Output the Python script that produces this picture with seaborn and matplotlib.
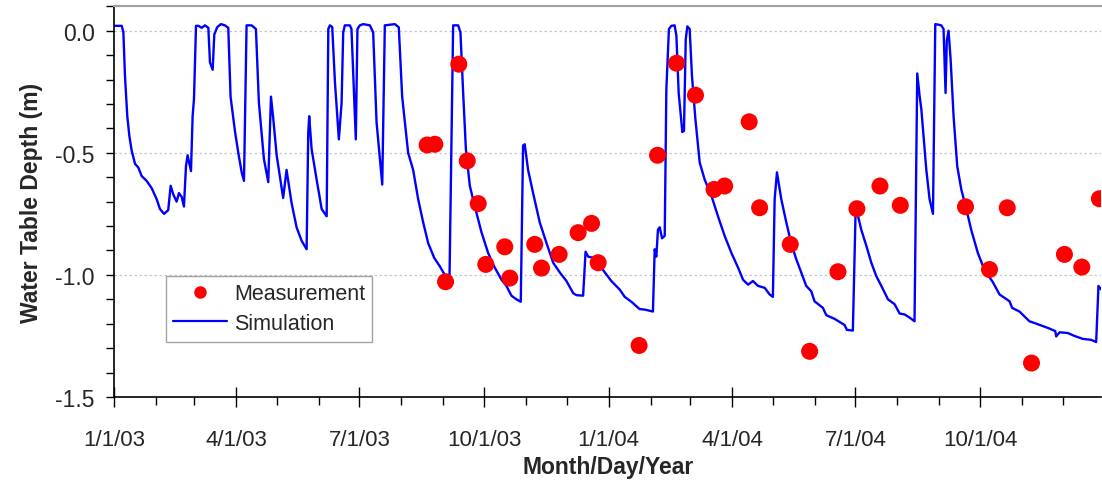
import numpy as np
import pandas as pd
import matplotlib
matplotlib.use("Agg")
import matplotlib.pyplot as plt
import matplotlib.dates as mdates
from matplotlib.lines import Line2D
from matplotlib.ticker import MultipleLocator, FuncFormatter
import seaborn as sns

# ---------------- data ----------------
start_date = "2003-01-01"

sim_day = [0.0, 5.7, 6.9, 8.1, 9.8, 11.3, 13.0, 15.5, 17.9, 20.4, 24.1, 27.8, 31.5, 33.9, 36.9, 40.0,
           41.8, 43.7, 46.2, 47.9, 49.9, 51.6, 53.1, 54.3, 56.8, 58.0, 59.0, 60.5, 62.2, 64.7, 67.1,
           69.6, 70.8, 72.8, 74.0, 76.2, 78.9, 81.8, 84.3, 86.0, 89.2, 91.7, 94.2, 95.9, 97.8, 101.5,
           104.7, 106.9, 110.6, 113.8, 115.8, 117.5, 120.0, 122.5, 124.8, 127.3, 131.0, 134.7, 138.4,
           142.1, 143.3, 144.0, 145.8, 149.5, 153.2, 156.9, 158.1, 159.3, 161.0, 163.0, 165.9, 167.9,
           169.1, 170.3, 174.0, 175.2, 178.4, 179.6, 181.4, 183.8, 188.8, 191.2, 193.7, 197.9, 199.8,
           207.2, 210.1, 212.6, 217.0, 220.7, 224.4, 228.1, 231.8, 236.2, 240.4, 244.0, 247.5, 250.2,
           253.9, 255.6, 257.6, 259.6, 262.5, 266.2, 271.1, 276.0, 280.9, 285.9, 289.5, 293.2, 296.9,
           300.1, 301.8, 303.0, 305.5, 309.2, 314.1, 319.1, 324.0, 328.9, 333.8, 338.8, 341.2, 346.1,
           347.9, 349.8, 353.5, 360.8, 366.9, 373.1, 376.8, 381.7, 387.8, 391.5, 397.6, 398.9, 400.1,
           401.3, 402.6, 404.3, 406.3, 407.5, 409.4, 411.2, 413.6, 414.9, 416.6, 419.3, 420.5, 421.8,
           423.0, 424.7, 426.4, 428.9, 432.1, 435.8, 440.7, 445.6, 450.5, 455.5, 460.4, 464.1, 467.8,
           471.4, 475.1, 480.1, 483.7, 486.1, 487.4, 489.1, 492.3, 496.0, 499.6, 503.3, 507.0, 510.7,
           514.4, 516.8, 523.0, 525.5, 531.6, 539.0, 540.7, 545.1, 547.1, 548.1, 551.3, 555.0, 558.7,
           562.4, 566.1, 571.0, 575.9, 579.6, 583.3, 587.0, 590.6, 592.6, 594.3, 595.6, 599.3, 601.7,
           604.2, 605.9, 607.9, 610.3, 612.0, 613.5, 614.4, 615.7, 617.2, 619.4, 622.1, 625.1, 628.8,
           632.4, 637.3, 642.2, 648.4, 653.3, 660.7, 662.6, 668.0, 675.4, 679.1, 688.9, 694.4, 695.1,
           697.6, 703.7, 708.6, 714.8, 721.0, 724.6, 726.3, 728.3]
sim_depth = [0.02, 0.02, -0.005, -0.185, -0.35, -0.43, -0.49, -0.545, -0.56, -0.595, -0.615, -0.645,
             -0.69, -0.73, -0.75, -0.735, -0.635, -0.67, -0.70, -0.665, -0.68, -0.72, -0.555, -0.51,
             -0.575, -0.35, -0.28, 0.02, 0.02, 0.012, 0.022, 0.012, -0.13, -0.16, -0.015, 0.015, 0.027,
             0.022, 0.012, -0.27, -0.41, -0.50, -0.58, -0.615, 0.022, 0.022, 0.007, -0.295, -0.525,
             -0.62, -0.27, -0.36, -0.51, -0.60, -0.685, -0.57, -0.705, -0.805, -0.86, -0.895, -0.42,
             -0.35, -0.485, -0.61, -0.73, -0.76, 0.007, 0.022, 0.015, -0.21, -0.445, -0.295, -0.007,
             0.022, 0.022, 0.007, -0.445, 0.007, 0.022, 0.027, 0.022, -0.007, -0.375, -0.63, 0.022,
             0.027, 0.014, -0.27, -0.50, -0.57, -0.69, -0.785, -0.87, -0.93, -0.965, -1.0, -1.02,
             0.022, 0.022, -0.007, -0.255, -0.485, -0.635, -0.72, -0.825, -0.91, -0.97, -1.02, -1.045,
             -1.085, -1.10, -1.11, -0.47, -0.465, -0.57, -0.665, -0.785, -0.87, -0.95, -0.99, -1.025,
             -1.075, -1.083, -1.085, -0.905, -0.925, -0.93, -0.98, -1.025, -1.06, -1.09, -1.11, -1.14,
             -1.142, -1.15, -0.895, -0.925, -0.815, -0.805, -0.85, -0.84, -0.24, 0.007, 0.02, 0.022,
             -0.02, -0.255, -0.415, -0.41, -0.035, 0.018, 0.007, -0.185, -0.36, -0.54, -0.61, -0.675,
             -0.76, -0.84, -0.91, -0.97, -1.02, -1.04, -1.025, -1.045, -1.053, -1.08, -1.09, -0.69,
             -0.58, -0.69, -0.785, -0.87, -0.935, -0.99, -1.045, -1.067, -1.108, -1.135, -1.165, -1.18,
             -1.205, -1.225, -1.228, -0.745, -0.74, -0.815, -0.88, -0.95, -1.005, -1.045, -1.10,
             -1.12, -1.158, -1.162, -1.175, -1.19, -0.175, -0.265, -0.32, -0.57, -0.69, -0.75, 0.027,
             0.025, 0.022, 0.007, -0.255, -0.04, 0.0, -0.115, -0.35, -0.555, -0.65, -0.73, -0.815,
             -0.91, -0.98, -1.03, -1.08, -1.108, -1.135, -1.15, -1.19, -1.197, -1.217, -1.23, -1.252,
             -1.235, -1.238, -1.25, -1.262, -1.266, -1.275, -1.045, -1.06]

meas_day = [231.0, 236.7, 244.6, 254.4, 260.6, 268.7, 274.3, 288.3, 292.0, 310.4, 315.4, 328.4,
            342.4, 352.3, 357.2, 387.4, 401.0, 415.0, 429.0, 442.7, 450.5, 468.6, 476.3, 498.9,
            513.2, 534.1, 548.1, 565.1, 580.1, 628.2, 645.9, 659.0, 676.9, 701.2, 714.0, 727.0]
meas_depth = [-0.468, -0.465, -1.028, -0.137, -0.533, -0.708, -0.957, -0.885, -1.013, -0.875,
              -0.972, -0.916, -0.827, -0.789, -0.950, -1.289, -0.510, -0.133, -0.264, -0.650,
              -0.636, -0.373, -0.725, -0.875, -1.313, -0.987, -0.729, -0.636, -0.715, -0.721,
              -0.978, -0.725, -1.361, -0.916, -0.968, -0.688]

y_ticks = [0.0, -0.5, -1.0, -1.5]
x_label = "Month/Day/Year"
y_label = "Water Table Depth (m)"
series_names = ["Measurement", "Simulation"]

# ---------------- frames ----------------
t0 = pd.Timestamp(start_date)
sim = pd.DataFrame({"date": t0 + pd.to_timedelta(sim_day, unit="D"), "depth": sim_depth})
meas = pd.DataFrame({"date": t0 + pd.to_timedelta(meas_day, unit="D"), "depth": meas_depth})

# ---------------- style ----------------
sns.set_style("white")
plt.rcParams["font.family"] = ["Liberation Sans", "DejaVu Sans"]
plt.rcParams["axes.unicode_minus"] = False

fig = plt.figure(figsize=(11.02, 4.85), dpi=100)
ax = fig.add_axes([114 / 1102, 1 - 398 / 485, 1 - 114 / 1102 - 0.0005, (398 - 7.3) / 485])

sns.lineplot(data=sim, x="date", y="depth", ax=ax, color="#0000FF", linewidth=1.7,
             estimator=None, sort=False, zorder=2)
sns.scatterplot(data=meas, x="date", y="depth", ax=ax, color="#FF0000", s=150,
                edgecolor="none", zorder=3)

ax.set_xlim(t0, t0 + pd.Timedelta(days=728.5))
ax.set_ylim(-1.5, 0.1)

# y axis
ax.set_yticks(y_ticks)
ax.yaxis.set_minor_locator(MultipleLocator(0.1))
ax.yaxis.set_major_formatter(FuncFormatter(lambda v, p: f"{v:.1f}"))
ax.tick_params(axis="y", which="both", direction="out", length=6, width=1, color="black",
               labelsize=16.5, pad=8, left=True)
ax.tick_params(axis="y", which="minor", length=6)

# x axis
ax.xaxis.set_major_locator(mdates.MonthLocator(bymonth=[1, 4, 7, 10]))
ax.xaxis.set_minor_locator(mdates.MonthLocator())
ax.xaxis.set_major_formatter(FuncFormatter(
    lambda v, p: (lambda d: f"{d.month}/{d.day}/{d:%y}")(mdates.num2date(v))))
ax.tick_params(axis="x", which="major", direction="inout", length=14, width=1, color="black",
               labelsize=16, pad=16, bottom=True)
ax.tick_params(axis="x", which="minor", direction="out", length=6, width=1, color="black",
               bottom=True)

# grid
ax.grid(False)
for yv in y_ticks[:-1]:
    ax.axhline(yv, color="#c8c8c8", linestyle=(0, (2, 2)), linewidth=0.9, zorder=0)

# spines
for side in ["left", "bottom"]:
    ax.spines[side].set_color("black")
    ax.spines[side].set_linewidth(1.2)
ax.spines["top"].set_color("#a0a0a0")
ax.spines["top"].set_linewidth(1.5)
ax.spines["right"].set_visible(False)

ax.set_xlabel(x_label, fontsize=16.5, fontweight="bold", labelpad=4)
ax.set_ylabel(y_label, fontsize=16.5, fontweight="bold", labelpad=9)

# legend
handles = [
    Line2D([], [], linestyle="none", marker="o", markersize=9, color="#FF0000",
           markeredgecolor="none"),
    Line2D([], [], color="#0000FF", linewidth=1.6),
]
leg = ax.legend(handles, series_names, loc="upper left", bbox_to_anchor=(0.0526, 0.31),
                borderaxespad=0, frameon=True, fancybox=False, fontsize=15.5,
                handlelength=2.5, handletextpad=0.3, labelspacing=0.4, borderpad=0.35)
leg.get_frame().set_edgecolor("#8c8c8c")
leg.get_frame().set_linewidth(1.0)

fig.savefig("out.png", dpi=100)
